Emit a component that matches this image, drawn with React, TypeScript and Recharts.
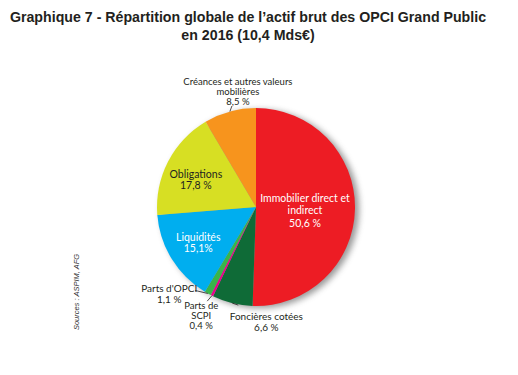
import { PieChart, Pie, Cell } from 'recharts'

const categories = [
  'Immobilier direct et indirect',
  'Foncières cotées',
  'Parts de SCPI',
  "Parts d'OPCI",
  'Liquidités',
  'Obligations',
  'Créances et autres valeurs mobilières',
]
const shares = [50.6, 6.6, 0.4, 1.1, 15.1, 17.8, 8.5]
const shareLabels = ['50,6 %', '6,6 %', '0,4 %', '1,1 %', '15,1%', '17,8 %', '8,5 %']
const nameLines = [
  ['Immobilier direct et', 'indirect'],
  ['Foncières cotées'],
  ['Parts de', 'SCPI'],
  ["Parts d'OPCI"],
  ['Liquidités'],
  ['Obligations'],
  ['Créances et autres valeurs', 'mobilières'],
]

const COLORS = ['#ed1c24', '#0f6b37', '#ec008c', '#39b54a', '#00aeef', '#d7df23', '#f7941d']

// label placement, relative to the slice (inside: point at k*r, outside: slice edge)
const LAYOUT: any[] = [
  { k: 0.52, dx: -2.5, dy: -10, lh: 12.5, size: 10.5, fill: '#ffffff' },
  { k: 1, dx: 34, dy: 13, lh: 11, size: 10, fill: '#231f20', line: [6, 2] },
  { k: 1, dx: -10.7, dy: 9, lh: 10, size: 9.5, fill: '#231f20', line: [-4.7, 5.5] },
  { k: 1, dx: -38.6, dy: -5.3, lh: 10.5, size: 10, fill: '#231f20', line: [-12.6, -3] },
  { k: 0.65, dx: -3, dy: -4, lh: 11, size: 10.5, fill: '#ffffff' },
  { k: 0.65, dx: -3, dy: -3, lh: 11, size: 10.5, fill: '#231f20' },
  { k: 1, dx: 8, dy: -30.5, lh: 10, size: 9.5, fill: '#231f20', line: [2, -5.5] },
]

const data = categories.map((name, i) => ({ name, value: shares[i] }))

const RADIAN = Math.PI / 180

const renderLabel = ({ cx, cy, midAngle, outerRadius, index }: any) => {
  const cfg = LAYOUT[index]
  const r = outerRadius * cfg.k
  const ax = cx + r * Math.cos(-midAngle * RADIAN)
  const ay = cy + r * Math.sin(-midAngle * RADIAN)
  const lines = [...nameLines[index], shareLabels[index]]
  const x = ax + cfg.dx
  const y0 = ay + cfg.dy
  return (
    <g key={`lbl-${index}`}>
      {cfg.line && (
        <line x1={ax} y1={ay} x2={ax + cfg.line[0]} y2={ay + cfg.line[1]} stroke="#231f20" strokeWidth={0.8} />
      )}
      <text
        x={x}
        y={y0}
        fill={cfg.fill}
        textAnchor="middle"
        dominantBaseline="central"
        style={{ fontFamily: 'Lato, sans-serif', fontSize: cfg.size }}
      >
        {lines.map((t, j) => (
          <tspan key={j} x={x} y={y0 + j * cfg.lh}>
            {t}
          </tspan>
        ))}
      </text>
    </g>
  )
}

export default function App() {
  return (
    <div style={{ position: 'absolute', left: 0, top: 0, width: 518, height: 375, background: '#fff' }}>
      <div
        style={{
          position: 'absolute',
          left: 0,
          top: 8,
          width: 496,
          textAlign: 'center',
          whiteSpace: 'nowrap',
          fontFamily: '"Liberation Sans", Arial, sans-serif',
          fontWeight: 'bold',
          fontSize: 14.2,
          lineHeight: '18px',
          color: '#231f20',
        }}
      >
        Graphique 7 - Répartition globale de l’actif brut des OPCI Grand Public
        <br />
        en 2016 (10,4 Mds€)
      </div>
      <div
        style={{
          position: 'absolute',
          left: 76,
          top: 292,
          transform: 'translate(-50%, -50%) rotate(-90deg)',
          fontFamily: '"Liberation Sans", Arial, sans-serif',
          fontStyle: 'italic',
          fontSize: 7.5,
          whiteSpace: 'nowrap',
          color: '#333',
        }}
      >
        Sources : ASPIM, AFG
      </div>
      <div style={{ position: 'absolute', left: 0, top: 0 }}>
        <PieChart width={518} height={375} margin={{ top: 0, right: 0, bottom: 0, left: 0 }}>
          <Pie
            data={[{ name: 'shadow', value: 1 }]}
            dataKey="value"
            cx={260}
            cy={209}
            outerRadius={99}
            startAngle={90}
            endAngle={-270}
            stroke="none"
            isAnimationActive={false}
          >
            <Cell fill="#444" style={{ filter: 'blur(3px)', opacity: 0.55 }} />
          </Pie>
          <Pie
            data={data}
            dataKey="value"
            cx={256}
            cy={207}
            outerRadius={99}
            startAngle={90}
            endAngle={-270}
            stroke="none"
            labelLine={false}
            label={renderLabel}
            isAnimationActive={false}
          >
            {data.map((d, i) => (
              <Cell key={d.name} fill={COLORS[i]} />
            ))}
          </Pie>
        </PieChart>
      </div>
    </div>
  )
}
